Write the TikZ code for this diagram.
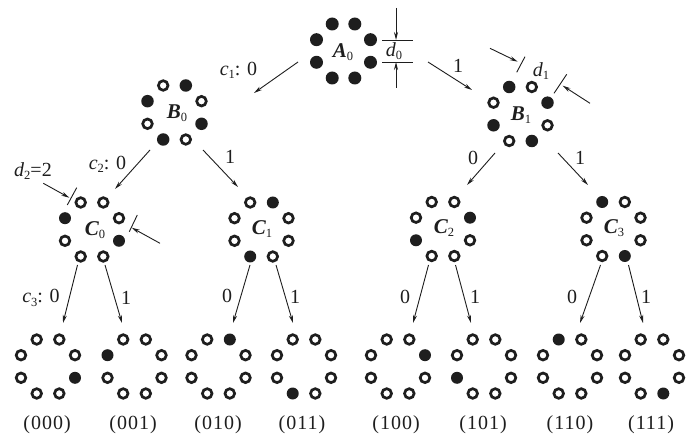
\documentclass[tikz,border=0pt]{standalone}
\usepackage{fontspec}
\setmainfont{Liberation Serif}
\usetikzlibrary{arrows.meta}
\definecolor{ink}{RGB}{30,30,30}
\newcommand\sbs[1]{\raisebox{-0.35ex}{\fontsize{12.5}{12.5}\selectfont #1}}
\newcommand\ring[5]{%
  \coordinate (#1) at (#2,#3);
  \foreach \f [count=\i from 0] in {#4}{%
    \pgfmathsetmacro\dx{{11.3,27,27,11.3,-11.3,-27,-27,-11.3}[\i]}%
    \pgfmathsetmacro\dy{{-27,-11.3,11.3,27,27,11.3,-11.3,-27}[\i]}%
    \ifnum\f=1
      \node[fdot,minimum size=#5] (#1-\i) at (#2+\dx,#3+\dy) {};
    \else
      \node[odot] (#1-\i) at (#2+\dx,#3+\dy) {};
    \fi
  }%
}
\begin{document}
\begin{tikzpicture}[x=1pt,y=-1pt,
  fdot/.style={circle,fill=ink,inner sep=0pt,outer sep=0pt,draw=none},
  odot/.style={circle,draw=ink,line width=2.7pt,inner sep=0pt,outer sep=0pt,minimum size=9.6pt},
  conn/.style={-{Stealth[length=8pt,width=4pt]},line width=0.9pt,draw=ink},
  dimline/.style={line width=0.9pt,draw=ink},
  lab/.style={text=ink,inner sep=0pt,font=\fontsize{20}{22}\selectfont},
  gname/.style={text=ink,inner sep=0pt,font=\fontsize{21}{23}\selectfont\bfseries\itshape},
  code/.style={text=ink,inner sep=0pt,font=\fontsize{20}{22}\selectfont\addfontfeatures{LetterSpace=5}}]
\useasboundingbox (0,0) rectangle (698,443);
\fill[white] (0,0) rectangle (698,443);

% groups
\ring{A0}{343.5}{51}{1,1,1,1,1,1,1,1}{13pt}
\ring{B0}{174.5}{112.5}{1,0,1,0,1,0,1,0}{12.5pt}
\ring{B1}{520.5}{114}{0,1,0,1,0,1,0,1}{12.5pt}
\ring{C0}{92}{229.5}{0,0,1,0,0,0,1,0}{12pt}
\ring{C1}{261.5}{229.5}{1,0,0,0,1,0,0,0}{12pt}
\ring{C2}{443}{229}{0,1,0,0,0,1,0,0}{12pt}
\ring{C3}{613.5}{229}{0,0,0,1,0,0,0,1}{12pt}
\ring{D0}{48}{366.5}{0,0,1,0,0,0,0,0}{12pt}
\ring{D1}{134.5}{366.5}{0,0,0,0,0,0,1,0}{12pt}
\ring{D2}{218.5}{366.5}{1,0,0,0,0,0,0,0}{12pt}
\ring{D3}{304}{366.5}{0,0,0,0,1,0,0,0}{12pt}
\ring{D4}{398}{366.5}{0,1,0,0,0,0,0,0}{12pt}
\ring{D5}{484}{366.5}{0,0,0,0,0,1,0,0}{12pt}
\ring{D6}{570}{366.5}{0,0,0,0,0,0,0,1}{12pt}
\ring{D7}{652}{366.5}{0,0,0,1,0,0,0,0}{12pt}

% group names
\node[gname] (nA0) at (343,52) {A\sbs{\mdseries\upshape 0}};
\node[gname] (nB0) at (177,113) {B\sbs{\mdseries\upshape 0}};
\node[gname] (nB1) at (521,115) {B\sbs{\mdseries\upshape 1}};
\node[gname] (nC0) at (95,230) {C\sbs{\mdseries\upshape 0}};
\node[gname] (nC1) at (262,229) {C\sbs{\mdseries\upshape 1}};
\node[gname] (nC2) at (444,228) {C\sbs{\mdseries\upshape 2}};
\node[gname] (nC3) at (614,228) {C\sbs{\mdseries\upshape 3}};

% codes
\node[code] (k0) at (47,425) {(000)};
\node[code] (k1) at (133,425) {(001)};
\node[code] (k2) at (218,425) {(010)};
\node[code] (k3) at (302,425) {(011)};
\node[code] (k4) at (396,425) {(100)};
\node[code] (k5) at (483,425) {(101)};
\node[code] (k6) at (570,425) {(110)};
\node[code] (k7) at (651,425) {(111)};

% connector end points
\coordinate (sAB0) at (298,62);   \coordinate (eAB0) at (254,93);
\coordinate (sAB1) at (428,62);   \coordinate (eAB1) at (472,90);
\coordinate (sB0C0) at (150,150); \coordinate (eB0C0) at (115,189);
\coordinate (sB0C1) at (203,150); \coordinate (eB0C1) at (238,187);
\coordinate (sB1C2) at (495,153); \coordinate (eB1C2) at (467,185);
\coordinate (sB1C3) at (558,153); \coordinate (eB1C3) at (588,185);
\coordinate (sC0D0) at (77.5,265); \coordinate (eC0D0) at (63,323);
\coordinate (sC0D1) at (105,265);  \coordinate (eC0D1) at (122,323);
\coordinate (sC1D2) at (250,265);  \coordinate (eC1D2) at (233,323);
\coordinate (sC1D3) at (276,265);  \coordinate (eC1D3) at (293,323);
\coordinate (sC2D4) at (428.5,265); \coordinate (eC2D4) at (413,323);
\coordinate (sC2D5) at (455.5,265); \coordinate (eC2D5) at (471,323);
\coordinate (sC3D6) at (600.5,265); \coordinate (eC3D6) at (580,323);
\coordinate (sC3D7) at (628.5,265); \coordinate (eC3D7) at (643,323);

\foreach \a in {AB0,AB1,B0C0,B0C1,B1C2,B1C3,C0D0,C0D1,C1D2,C1D3,C2D4,C2D5,C3D6,C3D7}
  \draw[conn] (s\a) -- (e\a);

% branch labels
\node[lab] (l1) at (238.5,70) {\itshape c\sbs{\upshape 1}\upshape: 0};
\node[lab] (l2) at (458,66) {1};
\node[lab] (l3) at (107.5,164.5) {\itshape c\sbs{\upshape 2}\upshape: 0};
\node[lab] (l4) at (230,157) {1};
\node[lab] (l5) at (473,158) {0};
\node[lab] (l6) at (580,158) {1};
\node[lab] (l7) at (41,298) {\itshape c\sbs{\upshape 3}\upshape: 0};
\node[lab] (l8) at (126,298) {1};
\node[lab] (l9) at (227,296) {0};
\node[lab] (l10) at (295,297) {1};
\node[lab] (l11) at (405,297) {0};
\node[lab] (l12) at (475,297) {1};
\node[lab] (l13) at (572,297) {0};
\node[lab] (l14) at (646,297) {1};

% d0 dimension
\coordinate (x0a) at (382,40); \coordinate (x0b) at (413,40);
\coordinate (x0c) at (382,62); \coordinate (x0d) at (413,62);
\coordinate (d0t) at (396,8);  \coordinate (d0tt) at (396,40);
\coordinate (d0b) at (396,88); \coordinate (d0bt) at (396,62);
\draw[dimline] (x0a) -- (x0b);
\draw[dimline] (x0c) -- (x0d);
\draw[conn] (d0t) -- (d0tt);
\draw[conn] (d0b) -- (d0bt);
\node[lab] (ld0) at (394,51) {\itshape d\sbs{\upshape 0}};

% d1 dimension
\coordinate (t1a) at (516.7,72.3); \coordinate (t1b) at (525,56.7);
\coordinate (t2a) at (554,93.3);   \coordinate (t2b) at (566.7,74.3);
\coordinate (a1s) at (490,48.3);   \coordinate (a1e) at (517.7,61.7);
\coordinate (a2s) at (590,103.3);  \coordinate (a2e) at (562.7,85.7);
\draw[dimline] (t1a) -- (t1b);
\draw[dimline] (t2a) -- (t2b);
\draw[conn] (a1s) -- (a1e);
\draw[conn] (a2s) -- (a2e);
\node[lab] (ld1) at (541,71) {\itshape d\sbs{\upshape 1}};

% d2 dimension
\coordinate (u1a) at (67.3,205);   \coordinate (u1b) at (76.7,187.7);
\coordinate (u2a) at (129.3,231.7); \coordinate (u2b) at (137.3,215);
\coordinate (b1s) at (43.3,183.3); \coordinate (b1e) at (69.3,197.7);
\coordinate (b2s) at (160,243.3);  \coordinate (b2e) at (131.7,227.7);
\draw[dimline] (u1a) -- (u1b);
\draw[dimline] (u2a) -- (u2b);
\draw[conn] (b1s) -- (b1e);
\draw[conn] (b2s) -- (b2e);
\node[lab] (ld2) at (33,171) {\itshape d\sbs{\upshape 2}\upshape =2};
\end{tikzpicture}
\end{document}
